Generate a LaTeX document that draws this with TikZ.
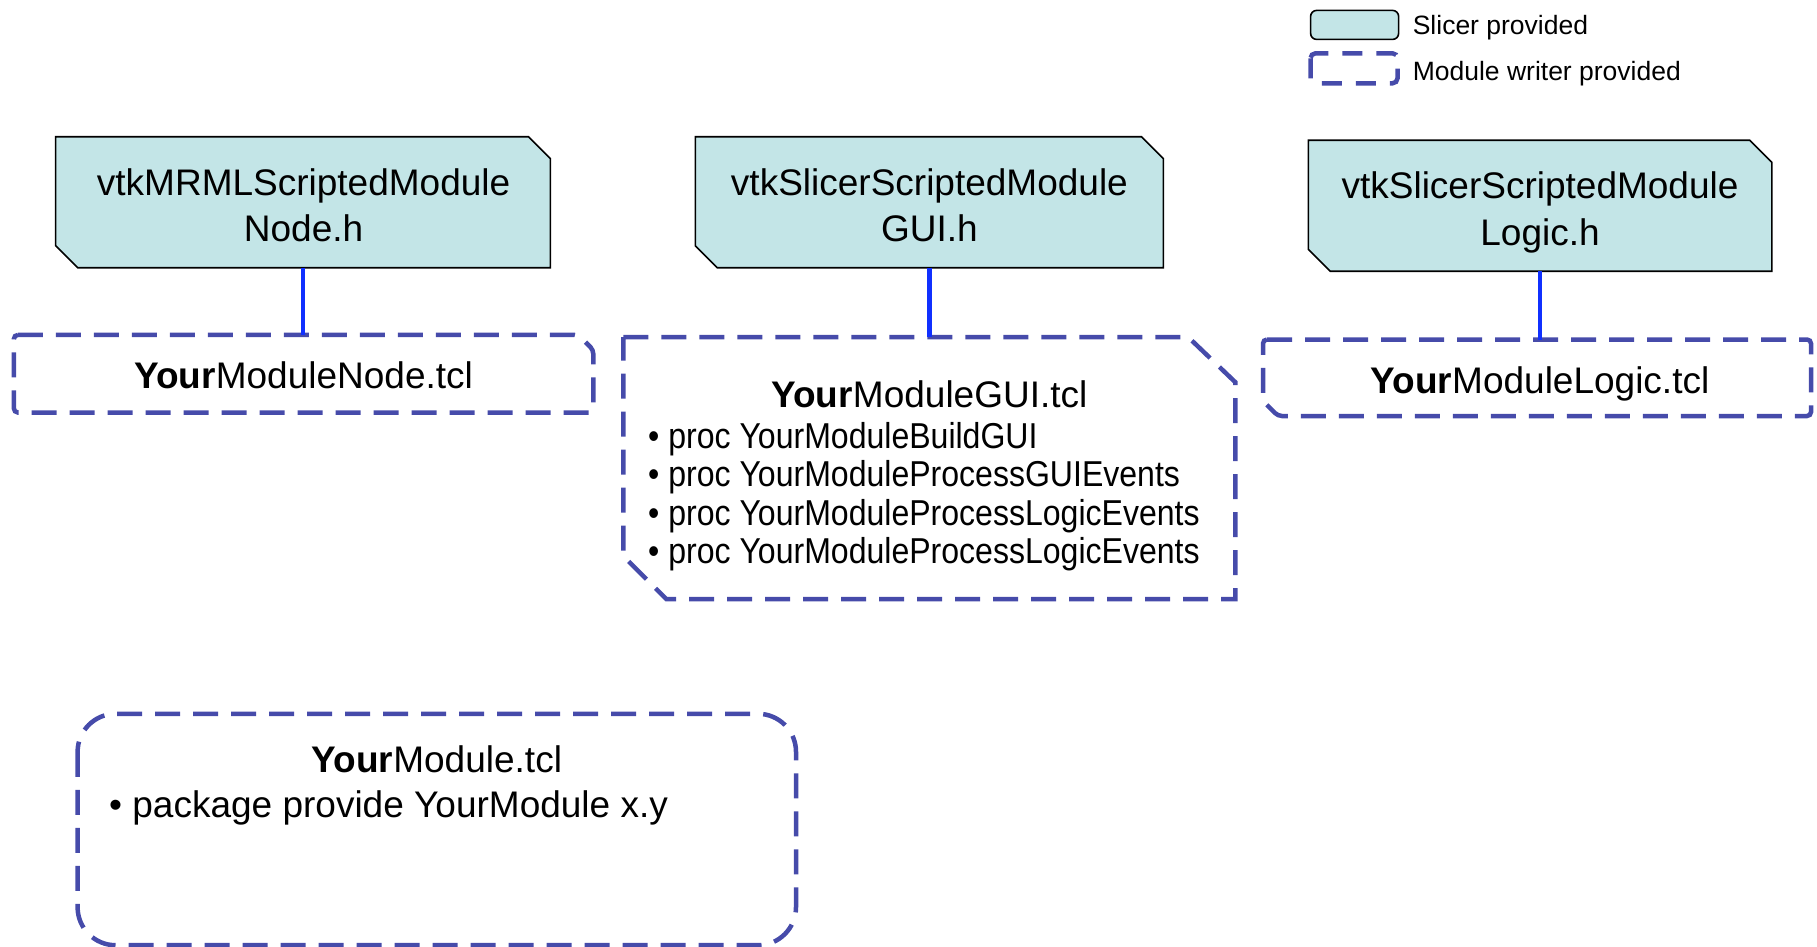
\documentclass[tikz,border=0pt]{standalone}
\usepackage{fontspec}
\setmainfont{Liberation Sans}
\newfontfamily\narrowfont[FakeStretch=0.89]{Liberation Sans}
\definecolor{boxfill}{RGB}{195,229,231}
\definecolor{dashblue}{RGB}{70,75,170}
\definecolor{linkblue}{RGB}{16,48,255}
\begin{document}
\begin{tikzpicture}[x=1pt,y=-1pt,
  frame/.style={rectangle, draw=none, inner sep=0pt, outer sep=0pt},
  slicer/.style={fill=boxfill, draw=black, line width=1.6pt, line join=miter},
  writer/.style={draw=dashblue, line width=4.5pt, dash pattern=on 25pt off 13pt},
  link/.style={draw=linkblue, line width=4.5pt},
  big/.style={font=\fontsize{37}{46.4}\selectfont, align=center, inner sep=0pt},
  bul/.style={font=\narrowfont\fontsize{36}{38}\selectfont, anchor=base west, inner sep=0pt},
  leg/.style={font=\fontsize{26.5}{30}\selectfont, anchor=base west, inner sep=0pt}]
\useasboundingbox (0,0) rectangle (1817,946);

% ---- legend
\node[frame, minimum width=88pt, minimum height=29pt] (lg1) at (1354.6,24.9) {};
\path[slicer, rounded corners=6pt] (lg1.north west) rectangle (lg1.south east);
\node[leg] (lt1) at (1412.6,34.8) {Slicer provided};
\node[frame, minimum width=87pt, minimum height=30pt] (lg2) at (1354,68.3) {};
\path[writer, rounded corners=5pt, dash pattern=on 20pt off 14pt] (lg2.north west) rectangle (lg2.south east);
\node[leg] (lt2) at (1412.6,80) {Module writer provided};

% ---- Slicer provided header boxes
\node[frame, minimum width=494.8pt, minimum height=131pt] (h1) at (303,202.2) {};
\node[frame, minimum width=468.1pt, minimum height=131pt] (h2) at (929.35,202.2) {};
\node[frame, minimum width=463.5pt, minimum height=131pt] (h3) at (1540.05,205.7) {};
\foreach \n in {h1,h2,h3}{
  \path[slicer] (\n.north west) -- ([xshift=-22pt]\n.north east) -- ([yshift=-22pt]\n.north east)
    -- (\n.south east) -- ([xshift=22pt]\n.south west) -- ([yshift=22pt]\n.south west) -- cycle;
}
\node[big] (h1t) at (303.6,205.1) {vtkMRMLScriptedModule\\Node.h};
\node[big] (h2t) at (929.4,205.1) {vtkSlicerScriptedModule\\GUI.h};
\node[big] (h3t) at (1540,212.3) {vtkSlicerScriptedModule\\Logic.h};

% ---- Module writer provided boxes
\node[frame, minimum width=579.4pt, minimum height=77.6pt] (d1) at (303.6,373.7) {};
\node[frame, minimum width=611.9pt, minimum height=261.9pt] (d2) at (929.35,468.15) {};
\node[frame, minimum width=548pt, minimum height=76.5pt] (d3) at (1537,377.75) {};
\node[frame, minimum width=718.4pt, minimum height=231.4pt] (m) at (436.8,829.5) {};

\path[writer, rounded corners=4pt] (d1.north west) -- ([xshift=-15pt]d1.north east) -- ([yshift=-15pt]d1.north east)
  -- (d1.south east) -- (d1.south west) -- cycle;
\path[writer] (d2.north west) -- ([xshift=-47pt]d2.north east) -- ([yshift=-45pt]d2.north east)
  -- (d2.south east) -- ([xshift=43pt]d2.south west) -- ([yshift=43pt]d2.south west) -- cycle;
\path[writer, rounded corners=4pt] (d3.north west) -- (d3.north east) -- (d3.south east)
  -- ([xshift=15pt]d3.south west) -- ([yshift=15pt]d3.south west) -- cycle;
\path[writer, rounded corners=38pt] (m.north west) rectangle (m.south east);

% ---- connectors
\draw[link] (h1.south) -- (h1.south |- d1.north);
\draw[link] (h2.south) -- (h2.south |- d2.north);
\draw[link] (h3.south) -- (h3.south |- d3.north);

% ---- texts in writer boxes
\node[big, anchor=base] (d1t) at (303.6,388.4) {\textbf{Your}ModuleNode.tcl};
\node[big, anchor=base] (d2t) at (929.4,407) {\textbf{Your}ModuleGUI.tcl};
\node[bul] (b1) at (648,448.3) {• proc YourModuleBuildGUI};
\node[bul] (b2) at (648,486.6) {• proc YourModuleProcessGUIEvents};
\node[bul] (b3) at (648,525.9) {• proc YourModuleProcessLogicEvents};
\node[bul] (b4) at (648,563) {• proc YourModuleProcessLogicEvents};
\node[big, anchor=base] (d3t) at (1540,393) {\textbf{Your}ModuleLogic.tcl};
\node[big, anchor=base] (mt) at (436.9,772) {\textbf{Your}Module.tcl};
\node[big, anchor=base west] (mb) at (109,817.2) {• package provide YourModule x.y};
\end{tikzpicture}
\end{document}
